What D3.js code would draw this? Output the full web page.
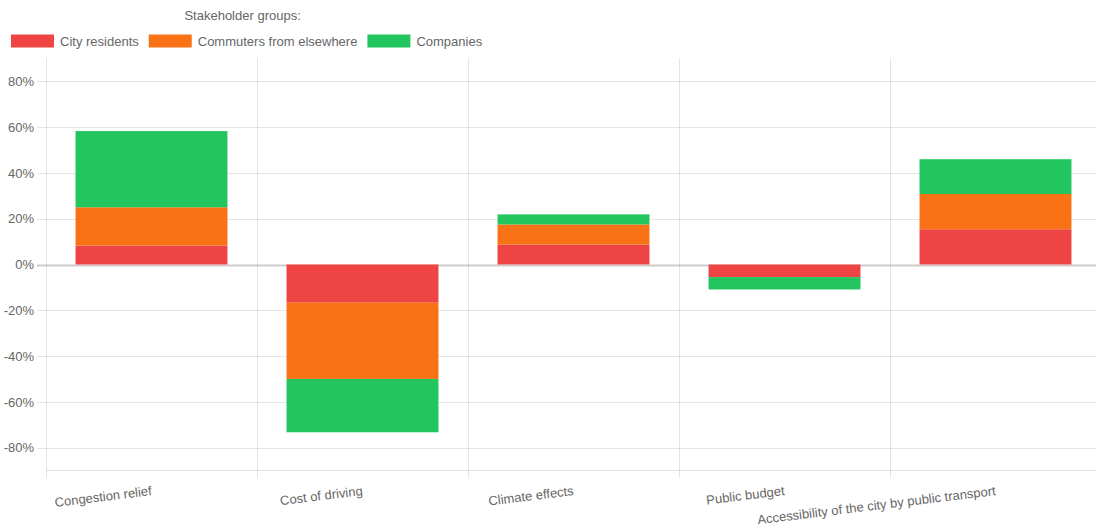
<!DOCTYPE html>
<html>
<head>
<meta charset="utf-8">
<script src="https://cdn.jsdelivr.net/npm/d3@7"></script>
<style>
  body { margin: 0; background: #fff; }
  svg { display: block; font-family: "Liberation Sans", Arial, sans-serif; }
</style>
</head>
<body>
<svg id="chart" width="1096" height="527"></svg>
<script>
// Chart data (percent values, stacked per category)
const categories = [
  'Congestion relief',
  'Cost of driving',
  'Climate effects',
  'Public budget',
  'Accessibility of the city by public transport',
];
const cityResidents = [8.3, -16.7, 8.7, -5.5, 15.4];
const commuters = [16.7, -33.3, 8.8, 0, 15.4];
const companies = [33.3, -23.3, 4.4, -5.4, 15.2];

const seriesNames = ['City residents', 'Commuters from elsewhere', 'Companies'];
const seriesColors = ['#ef4444', '#f97316', '#22c55e'];
const yTicks = [-80, -60, -40, -20, 0, 20, 40, 60, 80];
const legendTitle = 'Stakeholder groups:';

// Layout
const dims = { left: 46, right: 1101, top: 58.5, bottom: 470.5 };
const gridColor = 'rgba(0,0,0,0.1)';
const textColor = '#666';

const svg = d3.select('#chart');

// Table for the stack layout
const table = categories.map((c, i) => ({
  category: c,
  s0: cityResidents[i],
  s1: commuters[i],
  s2: companies[i],
}));
const stacked = d3.stack()
  .keys(['s0', 's1', 's2'])
  .offset(d3.stackOffsetDiverging)(table);

// Scales
const xScale = d3.scaleBand()
  .domain(categories)
  .range([dims.left, dims.right]);
// Bars take 72% of each category (0.8 * 0.9)
const barScale = d3.scaleBand()
  .domain(categories)
  .range([dims.left, dims.right])
  .paddingInner(0.28)
  .paddingOuter(0.14);
const yScale = d3.scaleLinear()
  .domain([-90, 90])
  .range([dims.bottom, dims.top]);

// Horizontal grid lines (with tick marks on the left)
svg.append('g')
  .attr('class', 'y-grid')
  .selectAll('line')
  .data(yTicks)
  .join('line')
  .attr('x1', dims.left - 9)
  .attr('x2', dims.right)
  .attr('y1', d => Math.round(yScale(d)) + 0.5)
  .attr('y2', d => Math.round(yScale(d)) + 0.5)
  .attr('stroke', d => (d === 0 ? 'rgba(0,0,0,0.2)' : gridColor))
  .attr('stroke-width', d => (d === 0 ? 2 : 1));

// Vertical grid lines at category boundaries
const xBounds = categories.map(c => xScale(c)).concat([dims.right]);
svg.append('g')
  .attr('class', 'x-grid')
  .selectAll('line')
  .data(xBounds)
  .join('line')
  .attr('x1', d => Math.round(d) + 0.5)
  .attr('x2', d => Math.round(d) + 0.5)
  .attr('y1', dims.top)
  .attr('y2', dims.bottom + 7)
  .attr('stroke', gridColor);

// Bottom axis line
svg.append('line')
  .attr('x1', dims.left)
  .attr('x2', dims.right)
  .attr('y1', dims.bottom)
  .attr('y2', dims.bottom)
  .attr('stroke', gridColor);

// Stacked bars
const seriesG = svg.append('g')
  .attr('class', 'bars')
  .selectAll('g')
  .data(stacked)
  .join('g')
  .attr('fill', (d, i) => seriesColors[i]);

seriesG.selectAll('rect')
  .data(d => d.filter(p => p[1] !== p[0]))
  .join('rect')
  .attr('x', p => barScale(p.data.category))
  .attr('width', barScale.bandwidth())
  .attr('y', p => yScale(Math.max(p[0], p[1])))
  .attr('height', p => Math.abs(yScale(p[0]) - yScale(p[1])));

// Y axis labels
const yAxis = d3.axisLeft(yScale)
  .tickValues(yTicks)
  .tickSize(0)
  .tickPadding(12)
  .tickFormat(d => `${d}%`);
const yAxisG = svg.append('g')
  .attr('transform', `translate(${dims.left},0)`)
  .call(yAxis);
yAxisG.select('.domain').remove();
yAxisG.selectAll('text')
  .attr('fill', textColor)
  .attr('font-size', 13)
  .attr('font-family', '"Liberation Sans", Arial, sans-serif');

// X axis labels, slightly rotated, ending at the category centre
const xAxis = d3.axisBottom(xScale).tickSize(0);
const xAxisG = svg.append('g')
  .attr('transform', `translate(0,${dims.bottom})`)
  .call(xAxis);
xAxisG.select('.domain').remove();
xAxisG.selectAll('text')
  .attr('x', 0)
  .attr('y', 0)
  .attr('dy', '0.35em')
  .attr('text-anchor', 'end')
  .attr('transform', 'translate(0,20) rotate(-7)')
  .attr('fill', textColor)
  .attr('font-size', 13)
  .attr('font-family', '"Liberation Sans", Arial, sans-serif');

// Legend
const legendG = svg.append('g').attr('class', 'legend');
const boxW = 43;
const boxH = 13;
let cursor = 11;
const itemY = 41;
seriesNames.forEach((name, i) => {
  legendG.append('rect')
    .attr('x', cursor)
    .attr('y', itemY - boxH / 2)
    .attr('width', boxW)
    .attr('height', boxH)
    .attr('fill', seriesColors[i]);
  const label = legendG.append('text')
    .attr('x', cursor + boxW + 6)
    .attr('y', itemY)
    .attr('dy', '0.35em')
    .attr('fill', textColor)
    .attr('font-size', 13)
    .text(name);
  cursor += boxW + 6 + label.node().getComputedTextLength() + 10;
});
const legendRight = cursor - 10;

legendG.append('text')
  .attr('x', (11 + legendRight) / 2 - 4)
  .attr('y', 15)
  .attr('dy', '0.35em')
  .attr('text-anchor', 'middle')
  .attr('fill', textColor)
  .attr('font-size', 13)
  .text(legendTitle);
</script>
</body>
</html>
